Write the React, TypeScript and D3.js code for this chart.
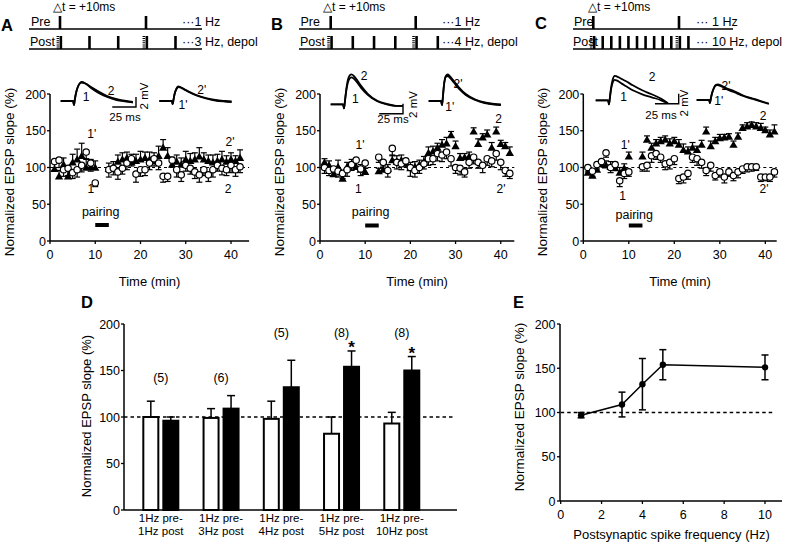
import React from "react";
import * as d3 from "d3";

const FONT = '"Liberation Sans", Arial, Helvetica, sans-serif';

// ---------------- data ----------------
const TIME_MIN = [1, 2, 3, 4, 5, 6, 7, 8, 9, 10, 13, 14, 15, 16, 17, 18, 19, 20, 21, 22, 23, 24, 25, 26, 27, 28, 29, 30, 31, 32, 33, 34, 35, 36, 37, 38, 39, 40, 41, 42];
const TIME_TICKS = [0, 10, 20, 30, 40];
const SLOPE_TICKS = [0, 50, 100, 150, 200];
const PAIRING_MIN = [10, 13];
const PAIRING_LABEL_MIN = 11.2;

const A_OPEN = [108, 110, 97, 99, 93, 97, 103, 121, 106, 79, 97, 99, 94, 99, 106, 112, 91, 97, 97, 106, 112, 106, 88, 88, 110, 97, 90, 103, 99, 94, 90, 97, 90, 97, 103, 99, 97, 103, 97, 101];
const A_OPEN_ERR = [12, 10, 9, 10, 8, 10, 9, 10, 11, 5, 10, 9, 10, 8, 9, 10, 11, 9, 8, 9, 10, 9, 8, 7, 9, 10, 9, 8, 8, 9, 10, 8, 9, 10, 8, 9, 8, 10, 9, 8];
const A_FILLED = [97, 87, 103, 87, 106, 110, 115, 99, 100, 99, 97, 100, 107, 110, 112, 106, 108, 110, 112, 110, 108, 115, 126, 115, 103, 107, 103, 110, 108, 110, 114, 110, 108, 106, 108, 110, 107, 110, 108, 112];
const A_FILLED_ERR = [12, 9, 10, 10, 12, 15, 18, 13, 11, 10, 9, 8, 10, 10, 9, 12, 10, 12, 9, 11, 12, 14, 12, 12, 11, 10, 10, 12, 11, 10, 13, 10, 9, 11, 10, 12, 9, 10, 8, 12];

const B_OPEN = [100, 96, 98, 95, 92, 97, 104, 110, 98, 106, 114, 107, 96, 126, 107, 105, 109, 100, 96, 100, 105, 112, 112, 119, 117, 121, 112, 100, 99, 94, 107, 114, 107, 103, 112, 109, 119, 107, 96, 92];
const B_OPEN_ERR = [8, 7, 9, 8, 7, 9, 8, 12, 9, 7, 7, 8, 9, 10, 9, 8, 8, 12, 9, 8, 7, 9, 8, 10, 9, 9, 10, 8, 9, 7, 8, 9, 8, 10, 9, 8, 9, 10, 8, 7];
const B_FILLED = [106, 102, 90, 100, 84, 100, 102, 100, 96, 93, 94, 96, 97, 109, 107, 109, 105, 98, 100, 103, 107, 119, 121, 126, 130, 132, 143, 128, 112, 113, 114, 148, 131, 140, 144, 126, 148, 131, 128, 119];
const B_FILLED_ERR = [6, 7, 8, 10, 5, 7, 9, 10, 8, 6, 5, 6, 7, 8, 9, 8, 7, 9, 8, 7, 8, 9, 8, 7, 8, 9, 6, 8, 7, 6, 7, 6, 8, 6, 7, 8, 7, 6, 6, 9];

const C_OPEN = [100, 95, 104, 108, 120, 100, 104, 82, 92, 94, 101, 103, 116, 119, 114, 105, 107, 112, 85, 87, 92, 114, 112, 107, 96, 103, 89, 94, 87, 94, 89, 94, 98, 101, 101, 101, 87, 87, 87, 94];
const C_OPEN_ERR = [6, 7, 6, 7, 6, 7, 6, 8, 7, 6, 6, 8, 9, 8, 7, 8, 9, 8, 7, 8, 8, 7, 9, 8, 7, 8, 6, 7, 8, 6, 7, 8, 6, 7, 6, 5, 6, 5, 6, 7];
const C_FILLED = [92, 88, 96, 104, 102, 100, 98, 92, 98, 114, 114, 137, 126, 132, 135, 137, 132, 135, 130, 123, 121, 126, 123, 130, 148, 128, 135, 139, 140, 141, 130, 141, 153, 155, 157, 155, 153, 150, 144, 148];
const C_FILLED_ERR = [8, 6, 7, 6, 7, 8, 9, 8, 7, 7, 7, 6, 7, 6, 6, 6, 7, 6, 8, 9, 7, 8, 6, 7, 7, 8, 6, 6, 5, 5, 6, 6, 5, 6, 5, 6, 7, 5, 7, 10];

// EPSP traces (ms relative to stimulus, mV relative to baseline)
const TRACE_T = [-14, -1, 0, 0.8, 2, 4, 6, 8, 12, 18, 25, 35, 45, 55, 62];
const TRACE_A1 = [0, 0, -0.8, 0.2, 1.5, 2.8, 3.5, 3.8, 3.5, 2.6, 1.7, 0.8, 0.2, -0.1, -0.3];
const TRACE_A2 = [0, 0, -0.8, 0.2, 1.5, 2.8, 3.5, 3.7, 3.5, 2.8, 2.0, 1.0, 0.4, 0.0, -0.2];
const TRACE_A1P = [0, 0, -0.6, 0.2, 1.4, 2.4, 2.8, 2.7, 2.3, 1.7, 1.1, 0.5, 0.1, -0.1, -0.2];
const TRACE_A2P = [0, 0, -0.6, 0.2, 1.4, 2.5, 2.9, 2.8, 2.4, 1.8, 1.2, 0.6, 0.2, 0.0, -0.1];
const TRACE_B1 = [0, 0, -0.8, 0.3, 2.2, 4.3, 5.2, 5.4, 4.8, 3.3, 1.9, 0.6, 0.0, -0.3, -0.3];
const TRACE_B2 = [0, 0, -0.8, 0.3, 2.4, 4.8, 5.8, 6.0, 5.3, 3.7, 2.1, 0.7, 0.1, -0.3, -0.3];
const TRACE_B1P = [0, 0, -0.8, 0.5, 3.0, 4.8, 5.0, 4.7, 3.8, 2.4, 1.2, 0.2, -0.4, -0.7, -0.8];
const TRACE_B2P = [0, 0, -0.8, 0.5, 3.1, 5.0, 5.3, 5.0, 4.1, 2.7, 1.4, 0.3, -0.3, -0.6, -0.7];
const TRACE_C1 = [0, 0, -0.8, 0.3, 2.0, 3.6, 4.1, 4.0, 3.5, 2.8, 2.0, 1.2, 0.6, 0.0, -0.6];
const TRACE_C2 = [0, 0, -0.8, 0.3, 2.3, 4.2, 4.9, 4.8, 4.4, 3.8, 3.0, 2.0, 1.2, 0.3, -0.6];
const TRACE_C1P = [0, 0, -0.6, 0.2, 1.2, 2.3, 2.9, 3.0, 2.7, 2.1, 1.6, 0.8, 0.2, -0.4, -0.8];
const TRACE_C2P = [0, 0, -0.6, 0.2, 1.3, 2.4, 3.0, 3.1, 2.9, 2.3, 1.8, 0.9, 0.3, -0.3, -0.7];

// Spike timing protocols (s)
const PRE_SPIKES = [0, 1];
const DEPOL_SPIKES = [0, 1];
const DELTA_T = 0.01;
const POST_SPIKES_A = [0, 0.333, 0.667, 1, 1.333];
const POST_SPIKES_B = [0, 0.25, 0.5, 0.75, 1, 1.25];
const POST_SPIKES_C = [0, 0.1, 0.2, 0.3, 0.4, 0.5, 0.6, 0.7, 0.8, 0.9, 1.0, 1.1];

// Panel D
const D_IDS = ["g1", "g2", "g3", "g4", "g5"];
const D_LINE1 = ["1Hz pre-", "1Hz pre-", "1Hz pre-", "1Hz pre-", "1Hz pre-"];
const D_LINE2 = ["1Hz post", "3Hz post", "4Hz post", "5Hz post", "10Hz post"];
const D_PRE_MEAN = [100, 99, 98, 82, 93];
const D_PRE_ERR = [17, 10, 19, 18, 12];
const D_POST_MEAN = [96, 109, 132, 154, 150];
const D_POST_ERR = [4, 14, 29, 17, 15];
const D_N = ["(5)", "(6)", "(5)", "(8)", "(8)"];
const D_N_AT = [143, 143, 191, 191, 191];
const D_STAR = [false, false, false, true, true];

// Panel E
const E_FREQ = [1, 3, 4, 5, 10];
const E_MEAN = [97, 109, 132, 154, 151];
const E_SEM = [3, 14, 29, 17, 14];
const E_X_TICKS = [0, 2, 4, 6, 8, 10];

// ---------------- components ----------------
const K = "#000";

function Timing(p: {
  lineX0: number; lineX1: number; spikeX0: number; pps: number;
  post: number[]; dtX: number; preX: number; postX: number; rateX: number;
  preText: string; postText: string;
}) {
  const sx = d3.scaleLinear().domain([0, 1]).range([p.spikeX0, p.spikeX0 + p.pps]);
  const preY = 29, postY = 49;
  return (
    <g>
      <text x={p.dtX} y={11} fontSize={12}>△t = +10ms</text>
      <text x={p.preX} y={25.5} fontSize={12.5}>Pre</text>
      <line x1={p.lineX0} x2={p.lineX1} y1={preY} y2={preY} stroke={K} strokeWidth={1.4} />
      {PRE_SPIKES.map((t, i) => (
        <line key={i} x1={sx(t)} x2={sx(t)} y1={16} y2={preY} stroke={K} strokeWidth={2.6} />
      ))}
      <text x={p.rateX} y={25.5} fontSize={12.5}>{p.preText}</text>
      <text x={p.postX} y={45.5} fontSize={12.5}>Post</text>
      <line x1={p.lineX0} x2={p.lineX1} y1={postY} y2={postY} stroke={K} strokeWidth={1.4} />
      {p.post.map((t, i) => (
        <line key={i} x1={sx(t + DELTA_T)} x2={sx(t + DELTA_T)} y1={36} y2={postY} stroke={K} strokeWidth={2.6} />
      ))}
      {DEPOL_SPIKES.map((t, i) => (
        <line key={"h" + i} x1={sx(t + DELTA_T) - 3} x2={sx(t + DELTA_T) - 3} y1={36} y2={postY} stroke={K} strokeWidth={2.6} strokeDasharray="1 1.1" />
      ))}
      <text x={p.rateX} y={45.5} fontSize={12.5}>{p.postText}</text>
    </g>
  );
}

function Inset(p: { ax: number; by: number; traces: number[][] }) {
  const xs = d3.scaleLinear().domain([0, 25]).range([p.ax, p.ax + 23.75]);
  const ys = d3.scaleLinear().domain([0, 2]).range([p.by, p.by - 10]);
  const line = d3.line<number>().x((_, i) => xs(TRACE_T[i])).y((v) => ys(v)).curve(d3.curveMonotoneX);
  return (
    <g>
      {p.traces.map((tr, i) => (
        <path key={i} d={line(tr) || ""} fill="none" stroke={K} strokeWidth={1.8} />
      ))}
    </g>
  );
}

function ScaleBar(p: { cx: number; cy: number; msX: number; msY: number; mvX: number; mvY: number }) {
  const xs = d3.scaleLinear().domain([0, 25]).range([0, 23.75]);
  const ys = d3.scaleLinear().domain([0, 2]).range([0, 10]);
  return (
    <g>
      <path d={`M${p.cx - xs(25)},${p.cy}H${p.cx}V${p.cy - ys(2)}`} fill="none" stroke={K} strokeWidth={1.4} />
      <text x={p.msX} y={p.msY} fontSize={11.5} textAnchor="middle">25 ms</text>
      <text transform={`translate(${p.mvX},${p.mvY}) rotate(-90)`} fontSize={11.5} textAnchor="middle">2 mV</text>
    </g>
  );
}

type Lbl = { t: string; x: number; y: number };

function TimeCourse(p: {
  x0: number; x1: number; xMax: number;
  open: number[]; openErr: number[]; filled: number[]; filledErr: number[];
  titleX: number; labels: Lbl[]; pairTextY: number; pairBarY: number;
}) {
  const xs = d3.scaleLinear().domain([0, p.xMax]).range([p.x0, p.x1]);
  const ys = d3.scaleLinear().domain([0, 200]).range([241, 94]);
  const tri = d3.symbol().type(d3.symbolTriangle).size(30)() || "";
  const cap = 3;
  return (
    <g>
      <line x1={xs(0)} x2={p.x1} y1={ys(100)} y2={ys(100)} stroke={K} strokeWidth={1.1} strokeDasharray="3 3" />
      {p.filled.map((v, i) => {
        const x = xs(TIME_MIN[i]);
        const yt = ys(v + p.filledErr[i]);
        return (
          <g key={"fe" + i}>
            <line x1={x} x2={x} y1={ys(v)} y2={yt} stroke={K} strokeWidth={1.2} />
            <line x1={x - cap} x2={x + cap} y1={yt} y2={yt} stroke={K} strokeWidth={1.2} />
          </g>
        );
      })}
      {p.filled.map((v, i) => (
        <path key={"f" + i} d={tri} transform={`translate(${xs(TIME_MIN[i])},${ys(v)})`} fill={K} />
      ))}
      {p.open.map((v, i) => {
        const x = xs(TIME_MIN[i]);
        const yb = ys(v - p.openErr[i]);
        return (
          <g key={"oe" + i}>
            <line x1={x} x2={x} y1={ys(v)} y2={yb} stroke={K} strokeWidth={1.2} />
            <line x1={x - cap} x2={x + cap} y1={yb} y2={yb} stroke={K} strokeWidth={1.2} />
          </g>
        );
      })}
      {p.open.map((v, i) => (
        <circle key={"o" + i} cx={xs(TIME_MIN[i])} cy={ys(v)} r={3.2} fill="#fff" stroke={K} strokeWidth={1.2} />
      ))}
      <line x1={xs(0)} x2={xs(0)} y1={ys(0)} y2={ys(200)} stroke={K} strokeWidth={1.5} />
      <line x1={xs(0)} x2={p.x1} y1={ys(0)} y2={ys(0)} stroke={K} strokeWidth={1.5} />
      {SLOPE_TICKS.map((v) => (
        <g key={"y" + v}>
          <line x1={xs(0) - 3} x2={xs(0)} y1={ys(v)} y2={ys(v)} stroke={K} strokeWidth={1.3} />
          <text x={xs(0) - 4} y={ys(v)} dy="0.36em" textAnchor="end" fontSize={12.5}>{v}</text>
        </g>
      ))}
      {TIME_TICKS.map((t) => (
        <g key={"x" + t}>
          <line x1={xs(t)} x2={xs(t)} y1={ys(0)} y2={ys(0) + 3} stroke={K} strokeWidth={1.3} />
          <text x={xs(t)} y={258.5} textAnchor="middle" fontSize={12.5}>{t}</text>
        </g>
      ))}
      <text x={(xs(0) + p.x1) / 2} y={286} textAnchor="middle" fontSize={13}>Time (min)</text>
      <text transform={`translate(${p.titleX},172) rotate(-90)`} textAnchor="middle" fontSize={13.5}>Normalized EPSP slope (%)</text>
      <rect x={xs(PAIRING_MIN[0])} width={xs(PAIRING_MIN[1]) - xs(PAIRING_MIN[0])} y={p.pairBarY - 2} height={4} fill={K} />
      <text x={xs(PAIRING_LABEL_MIN)} y={p.pairTextY} textAnchor="middle" fontSize={12.5}>pairing</text>
      {p.labels.map((l, i) => (
        <text key={"l" + i} x={l.x} y={l.y} dy="0.36em" textAnchor="middle" fontSize={12}>{l.t}</text>
      ))}
    </g>
  );
}

function PanelD() {
  const gx = d3.scaleBand<string>().domain(D_IDS).range([130.7, 431.9]);
  const sub = d3.scaleBand<string>().domain(["pre", "post"]).range([-17.5, 17.5]).paddingInner(0.25);
  const ys = d3.scaleLinear().domain([0, 200]).range([510, 324]);
  const cap = 4;
  const center = (id: string) => (gx(id) || 0) + gx.bandwidth() / 2;
  const bars = (means: number[], errs: number[], key: string, fill: string) =>
    D_IDS.map((id, i) => {
      const x = center(id) + (sub(key) || 0);
      const w = sub.bandwidth();
      const cx = x + w / 2;
      const top = ys(means[i] + errs[i]);
      return (
        <g key={key + i}>
          <line x1={cx} x2={cx} y1={ys(means[i])} y2={top} stroke={K} strokeWidth={1.5} />
          <line x1={cx - cap} x2={cx + cap} y1={top} y2={top} stroke={K} strokeWidth={1.5} />
          <rect x={x} y={ys(means[i])} width={w} height={ys(0) - ys(means[i])} fill={fill} stroke={K} strokeWidth={2} />
        </g>
      );
    });
  return (
    <g>
      <line x1={124} x2={455} y1={ys(100)} y2={ys(100)} stroke={K} strokeWidth={1.3} strokeDasharray="3.5 3" />
      {bars(D_PRE_MEAN, D_PRE_ERR, "pre", "#fff")}
      {bars(D_POST_MEAN, D_POST_ERR, "post", K)}
      <line x1={124} x2={124} y1={ys(0)} y2={ys(200)} stroke={K} strokeWidth={1.5} />
      <line x1={124} x2={457} y1={ys(0)} y2={ys(0)} stroke={K} strokeWidth={1.5} />
      {SLOPE_TICKS.map((v) => (
        <g key={"dy" + v}>
          <line x1={121} x2={124} y1={ys(v)} y2={ys(v)} stroke={K} strokeWidth={1.3} />
          <text x={120} y={ys(v)} dy="0.36em" textAnchor="end" fontSize={12.5}>{v}</text>
        </g>
      ))}
      {D_IDS.map((id, i) => (
        <g key={"dl" + i}>
          <text x={center(id)} y={521.7} textAnchor="middle" fontSize={11.5}>{D_LINE1[i]}</text>
          <text x={center(id)} y={535} textAnchor="middle" fontSize={11.5}>{D_LINE2[i]}</text>
          <text x={center(id)} y={ys(D_N_AT[i])} dy="0.36em" textAnchor="middle" fontSize={12.5}>{D_N[i]}</text>
          {D_STAR[i] && (
            <text x={center(id) + (sub("post") || 0) + sub.bandwidth() / 2} y={ys(D_POST_MEAN[i] + D_POST_ERR[i]) + 2.5} textAnchor="middle" fontSize={17} fontWeight="bold">*</text>
          )}
        </g>
      ))}
      <text transform="translate(91,416) rotate(-90)" textAnchor="middle" fontSize={13}>Normalized EPSP slope (%)</text>
    </g>
  );
}

function PanelE() {
  const xs = d3.scaleLinear().domain([0, 10]).range([560.7, 765]);
  const ys = d3.scaleLinear().domain([0, 200]).range([501, 324]);
  const line = d3.line<number>().x((_, i) => xs(E_FREQ[i])).y((v) => ys(v));
  const cap = 3.5;
  return (
    <g>
      <line x1={xs(0)} x2={773} y1={ys(100)} y2={ys(100)} stroke={K} strokeWidth={1.3} strokeDasharray="3.5 3" />
      <path d={line(E_MEAN) || ""} fill="none" stroke={K} strokeWidth={1.5} />
      {E_FREQ.map((f, i) => {
        const x = xs(f);
        const yt = ys(E_MEAN[i] + E_SEM[i]);
        const yb = ys(E_MEAN[i] - E_SEM[i]);
        return (
          <g key={"e" + i}>
            <line x1={x} x2={x} y1={yt} y2={yb} stroke={K} strokeWidth={1.5} />
            <line x1={x - cap} x2={x + cap} y1={yt} y2={yt} stroke={K} strokeWidth={1.5} />
            <line x1={x - cap} x2={x + cap} y1={yb} y2={yb} stroke={K} strokeWidth={1.5} />
            <circle cx={x} cy={ys(E_MEAN[i])} r={3.2} fill={K} />
          </g>
        );
      })}
      <line x1={560} x2={560} y1={ys(0)} y2={ys(200)} stroke={K} strokeWidth={1.5} />
      <line x1={560} x2={782} y1={ys(0)} y2={ys(0)} stroke={K} strokeWidth={1.5} />
      {SLOPE_TICKS.map((v) => (
        <g key={"ey" + v}>
          <line x1={557} x2={560} y1={ys(v)} y2={ys(v)} stroke={K} strokeWidth={1.3} />
          <text x={555.5} y={ys(v)} dy="0.36em" textAnchor="end" fontSize={12.5}>{v}</text>
        </g>
      ))}
      {E_X_TICKS.map((t) => (
        <g key={"ex" + t}>
          <line x1={xs(t)} x2={xs(t)} y1={ys(0)} y2={ys(0) + 3} stroke={K} strokeWidth={1.3} />
          <text x={xs(t)} y={519.3} textAnchor="middle" fontSize={12.5}>{t}</text>
        </g>
      ))}
      <text x={671.5} y={539} textAnchor="middle" fontSize={13}>Postsynaptic spike frequency (Hz)</text>
      <text transform="translate(524,407) rotate(-90)" textAnchor="middle" fontSize={13.5}>Normalized EPSP slope (%)</text>
    </g>
  );
}

function PanelLabel(p: { x: number; y: number; t: string }) {
  return <text x={p.x} y={p.y} fontSize={16.5} fontWeight="bold">{p.t}</text>;
}

export default function App() {
  return (
    <svg width={785} height={543} viewBox="0 0 785 543" fontFamily={FONT}
      style={{ position: "absolute", left: 0, top: 0, background: "#fff" }}>
      <rect width={785} height={543} fill="#fff" />
      <PanelLabel x={1} y={31} t="A" />
      <PanelLabel x={271} y={30} t="B" />
      <PanelLabel x={535} y={29} t="C" />
      <PanelLabel x={81} y={308} t="D" />
      <PanelLabel x={513} y={308} t="E" />

      <Timing lineX0={29} lineX1={202} spikeX0={60} pps={86} post={POST_SPIKES_A}
        dtX={53} preX={31} postX={30} rateX={182} preText="···1 Hz" postText="···3 Hz, depol" />
      <Timing lineX0={299} lineX1={471} spikeX0={330.7} pps={85} post={POST_SPIKES_B}
        dtX={323} preX={300.5} postX={300} rateX={442} preText="···1 Hz" postText="···4 Hz, depol" />
      <Timing lineX0={573} lineX1={733} spikeX0={593.3} pps={85.7} post={POST_SPIKES_C}
        dtX={588} preX={574} postX={573} rateX={696} preText="··· 1 Hz" postText="··· 10 Hz, depol" />

      <Inset ax={74} by={101} traces={[TRACE_A1, TRACE_A2]} />
      <Inset ax={172.7} by={101} traces={[TRACE_A1P, TRACE_A2P]} />
      <ScaleBar cx={136} cy={107} msX={125} msY={121} mvX={147.5} mvY={96} />
      <Inset ax={344} by={104.3} traces={[TRACE_B1, TRACE_B2]} />
      <Inset ax={442} by={101} traces={[TRACE_B1P, TRACE_B2P]} />
      <ScaleBar cx={403} cy={113.7} msX={393} msY={122.5} mvX={416.5} mvY={104.5} />
      <Inset ax={609} by={100.3} traces={[TRACE_C1, TRACE_C2]} />
      <Inset ax={710} by={100} traces={[TRACE_C1P, TRACE_C2P]} />
      <ScaleBar cx={678.7} cy={103.7} msX={661} msY={118.5} mvX={687.5} mvY={103} />

      <TimeCourse x0={50} x1={249.1} xMax={44} open={A_OPEN} openErr={A_OPEN_ERR} filled={A_FILLED} filledErr={A_FILLED_ERR}
        titleX={13.5} pairTextY={216} pairBarY={225}
        labels={[
          { t: "1", x: 86, y: 97 }, { t: "2", x: 111, y: 91 }, { t: "1'", x: 183, y: 104.7 }, { t: "2'", x: 201.7, y: 90 },
          { t: "1'", x: 91.7, y: 134 }, { t: "1", x: 90.8, y: 189 }, { t: "2'", x: 230, y: 142 }, { t: "2", x: 228, y: 189 },
        ]} />
      <TimeCourse x0={320} x1={514.3} xMax={43} open={B_OPEN} openErr={B_OPEN_ERR} filled={B_FILLED} filledErr={B_FILLED_ERR}
        titleX={283.5} pairTextY={216} pairBarY={225.5}
        labels={[
          { t: "1", x: 355.3, y: 98.7 }, { t: "2", x: 364, y: 76 }, { t: "1'", x: 449.7, y: 107 }, { t: "2'", x: 458, y: 84 },
          { t: "1'", x: 360, y: 144.3 }, { t: "1", x: 358.3, y: 189 }, { t: "2", x: 498.7, y: 119 }, { t: "2'", x: 501, y: 189 },
        ]} />
      <TimeCourse x0={583.3} x1={776.7} xMax={42.5} open={C_OPEN} openErr={C_OPEN_ERR} filled={C_FILLED} filledErr={C_FILLED_ERR}
        titleX={546.5} pairTextY={219} pairBarY={225.5}
        labels={[
          { t: "1", x: 623.7, y: 97 }, { t: "2", x: 652, y: 76.7 }, { t: "1'", x: 718.7, y: 101 }, { t: "2'", x: 726, y: 85.7 },
          { t: "1'", x: 625.3, y: 144.3 }, { t: "1", x: 622.5, y: 196 }, { t: "2", x: 763, y: 115.7 }, { t: "2'", x: 764, y: 189 },
        ]} />

      <PanelD />
      <PanelE />
    </svg>
  );
}
